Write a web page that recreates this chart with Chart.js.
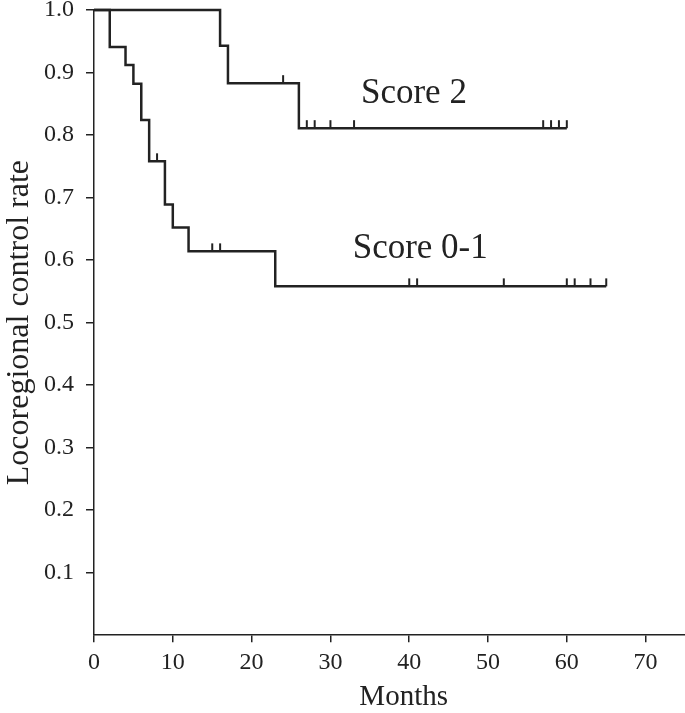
<!DOCTYPE html>
<html>
<head>
<meta charset="utf-8">
<script src="https://cdn.jsdelivr.net/npm/chart.js@4/dist/chart.umd.min.js"></script>
<style>
  body { margin: 0; background: #fff; }
  #wrap { width: 685px; height: 713px; }
</style>
</head>
<body>
<div id="wrap"><canvas id="chart"></canvas></div>
<script>
// Kaplan-Meier steps (months, rate after the drop)
const lowMonths = [0, 2, 4, 5, 6, 7, 9, 10, 12, 23, 65];
const lowRate = [1, 0.941, 0.912, 0.882, 0.824, 0.758, 0.689, 0.652, 0.614, 0.558, 0.558];
const lowCensMonths = [8, 15, 16, 40, 41, 52, 60, 61, 63, 65];
const lowCensRate = [0.758, 0.614, 0.614, 0.558, 0.558, 0.558, 0.558, 0.558, 0.558, 0.558];

const highMonths = [0, 16, 17, 26, 60];
const highRate = [1, 0.943, 0.883, 0.811, 0.811];
const highCensMonths = [24, 27, 28, 30, 33, 57, 58, 59, 60];
const highCensRate = [0.883, 0.811, 0.811, 0.811, 0.811, 0.811, 0.811, 0.811, 0.811];

const seriesNames = ['Score 0-1', 'Score 2'];
const xTickValues = [0, 10, 20, 30, 40, 50, 60, 70];

const ink = '#222';
const serif = "'Liberation Serif', 'Times New Roman', serif";

function pts(xs, ys) {
  return xs.map((x, i) => ({ x: x, y: ys[i] }));
}

// censor mark: short vertical stroke sitting on top of the line
function censorMark() {
  const c = document.createElement('canvas');
  c.width = 4; c.height = 18;
  const g = c.getContext('2d');
  g.strokeStyle = ink;
  g.lineWidth = 2;
  g.beginPath();
  g.moveTo(2, 1);
  g.lineTo(2, 9);
  g.stroke();
  return c;
}
const mark = censorMark();

// curve name labels, placed in data coordinates
const curveLabels = [
  { text: seriesNames[1], x: 40.6, y: 0.851 },
  { text: seriesNames[0], x: 41.4, y: 0.604 }
];

const labelPlugin = {
  id: 'curveLabels',
  afterDatasetsDraw(chart) {
    const ctx = chart.ctx;
    const xs = chart.scales.x, ys = chart.scales.y;
    ctx.save();
    ctx.fillStyle = ink;
    ctx.font = '35px ' + serif;
    ctx.textAlign = 'center';
    ctx.textBaseline = 'alphabetic';
    curveLabels.forEach(l => {
      ctx.fillText(l.text, xs.getPixelForValue(l.x), ys.getPixelForValue(l.y));
    });
    // x axis title sits a bit right of the plot centre in the original
    ctx.font = '29px ' + serif;
    ctx.fillText('Months', xs.getPixelForValue(39.3), chart.height - 8);
    ctx.restore();
  }
};

const lineStyle = {
  borderColor: ink,
  borderWidth: 2.5,
  pointRadius: 0,
  stepped: 'before',
  fill: false,
  clip: 4
};
const censStyle = {
  showLine: false,
  pointStyle: mark,
  pointRadius: 5,
  borderColor: ink,
  backgroundColor: ink,
  clip: 10
};

new Chart(document.getElementById('chart'), {
  type: 'scatter',
  data: {
    datasets: [
      Object.assign({ label: seriesNames[0], data: pts(lowMonths, lowRate), showLine: true }, lineStyle),
      Object.assign({ label: seriesNames[0] + ' censored', data: pts(lowCensMonths, lowCensRate) }, censStyle),
      Object.assign({ label: seriesNames[1], data: pts(highMonths, highRate), showLine: true }, lineStyle),
      Object.assign({ label: seriesNames[1] + ' censored', data: pts(highCensMonths, highCensRate) }, censStyle)
    ]
  },
  options: {
    responsive: true,
    maintainAspectRatio: false,
    animation: false,
    layout: { autoPadding: false, padding: { top: 10, right: 0, left: 0, bottom: 30 } },
    plugins: {
      legend: { display: false },
      tooltip: { enabled: false }
    },
    scales: {
      x: {
        type: 'linear',
        min: 0,
        max: 75,
        afterBuildTicks: s => { s.ticks = xTickValues.map(v => ({ value: v })); },
        afterFit: s => { s.paddingRight = 0; },
        border: { color: ink, width: 1.5 },
        grid: { drawOnChartArea: false, drawTicks: true, tickLength: 7, color: ink, lineWidth: 1.5 },
        ticks: { color: ink, font: { family: serif, size: 24 }, padding: 6, maxRotation: 0, autoSkip: false }
      },
      y: {
        min: 0,
        max: 1,
        afterFit: s => { s.paddingTop = 0; s.paddingBottom = 0; s.width = 94; },
        border: { color: ink, width: 1.5 },
        grid: {
          drawOnChartArea: false, drawTicks: true, tickLength: 8, lineWidth: 1.5,
          color: c => (c.tick && c.tick.value === 0) ? 'rgba(0,0,0,0)' : ink
        },
        ticks: {
          stepSize: 0.1, color: ink, font: { family: serif, size: 24 }, padding: 12,
          callback: v => v === 0 ? '' : Number(v).toFixed(1)
        },
        title: { display: true, text: 'Locoregional control rate', color: ink, font: { family: serif, size: 32 }, padding: { top: 0, bottom: 0 } }
      }
    }
  },
  plugins: [labelPlugin]
});
</script>
</body>
</html>
